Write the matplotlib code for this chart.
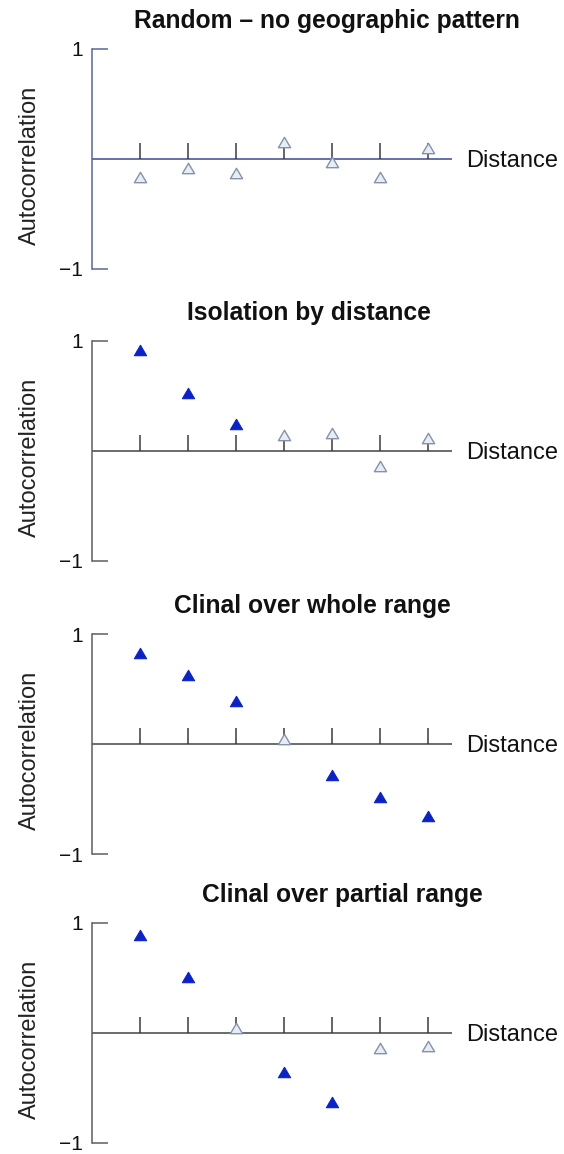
import matplotlib
matplotlib.use("Agg")
import matplotlib.pyplot as plt
from matplotlib.path import Path

plt.rcParams["font.family"] = ["Liberation Sans", "DejaVu Sans"]

# ---- data -------------------------------------------------------------
distance_classes = [1, 2, 3, 4, 5, 6, 7]

titles = [
    "Random \u2013 no geographic pattern",
    "Isolation by distance",
    "Clinal over whole range",
    "Clinal over partial range",
]

random_r = [-0.165, -0.08, -0.13, 0.155, -0.025, -0.165, 0.10]
random_sig = [False, False, False, False, False, False, False]

ibd_r = [0.917, 0.527, 0.246, 0.148, 0.163, -0.138, 0.119]
ibd_sig = [True, True, True, False, False, False, False]

clinal_whole_r = [0.83, 0.63, 0.387, 0.045, -0.28, -0.485, -0.65]
clinal_whole_sig = [True, True, True, False, True, True, True]

clinal_partial_r = [0.89, 0.505, 0.048, -0.35, -0.625, -0.14, -0.12]
clinal_partial_sig = [True, True, False, True, True, False, False]

panels = [
    (random_r, random_sig),
    (ibd_r, ibd_sig),
    (clinal_whole_r, clinal_whole_sig),
    (clinal_partial_r, clinal_partial_sig),
]

# ---- layout (figure pixels) ------------------------------------------
W, H, DPI = 564, 1154, 100
panel_tops = [49, 341, 634, 923]
panel_h = 220
x_left, x_right = 91.7, 452.0
title_cx = [327, 309, 312, 342]
x_max = 7.5

fill_blue = "#0b22c6"
open_face = "#e6edf5"
open_edge = "#8592aa"
axis_cols = ["#5a6699", "#5c5f5c", "#5c5f5c", "#5c5f5c"]
zero_cols = ["#4858a0", "#505450", "#505450", "#505450"]
tick_col = "#3a3a3a"

# slightly flattened triangle marker
tri = Path([(-1, -0.85), (1, -0.85), (0, 0.85), (-1, -0.85)],
           [Path.MOVETO, Path.LINETO, Path.LINETO, Path.CLOSEPOLY])

fig = plt.figure(figsize=(W / DPI, H / DPI), dpi=DPI)
fig.patch.set_facecolor("white")

for i, ((r, sig), title) in enumerate(zip(panels, titles)):
    top = panel_tops[i]
    ax = fig.add_axes([x_left / W, 1 - (top + panel_h) / H,
                       (x_right - x_left) / W, panel_h / H])
    ax.set_xlim(0, x_max)
    ax.set_ylim(-1, 1)
    for s in ("top", "right", "bottom"):
        ax.spines[s].set_visible(False)
    ax.spines["left"].set_color(axis_cols[i])
    ax.spines["left"].set_linewidth(1.1)
    ax.set_xticks([])
    ax.set_yticks([-1, 1])
    ax.set_yticklabels(["\u22121", "1"])
    ax.tick_params(axis="y", direction="in", length=11.5, width=1.1,
                   color=axis_cols[i], pad=6, labelsize=15,
                   labelcolor="#111111")

    # zero line and distance-class ticks
    ax.axhline(0, color=zero_cols[i], lw=1.2, zorder=1)
    ax.vlines(distance_classes, 0, 0.145, color=tick_col, lw=1.1, zorder=2)

    for x, y, s in zip(distance_classes, r, sig):
        if s:
            ax.plot(x, y, marker=tri, ms=8.8, mfc=fill_blue, mec=fill_blue,
                    mew=0.8, ls="none", zorder=4, clip_on=False)
        else:
            ax.plot(x, y, marker=tri, ms=8.8, mfc=open_face, mec=open_edge,
                    mew=1.0, ls="none", zorder=4, clip_on=False)

    ax.annotate("Distance", xy=(x_max, 0), xytext=(10, -6),
                textcoords="offset points", ha="left", va="baseline",
                fontsize=17, color="#111111", annotation_clip=False)

    fig.text(title_cx[i] / W, 1 - (top - 21) / H, title, ha="center",
             va="baseline", fontsize=17.7, fontweight="bold", color="#111111")

    fig.text(30 / W, 1 - (top + 116) / H, "Autocorrelation", rotation=90,
             ha="center", va="center", fontsize=17, color="#222222")

fig.savefig("out.png", dpi=DPI, facecolor="white")
